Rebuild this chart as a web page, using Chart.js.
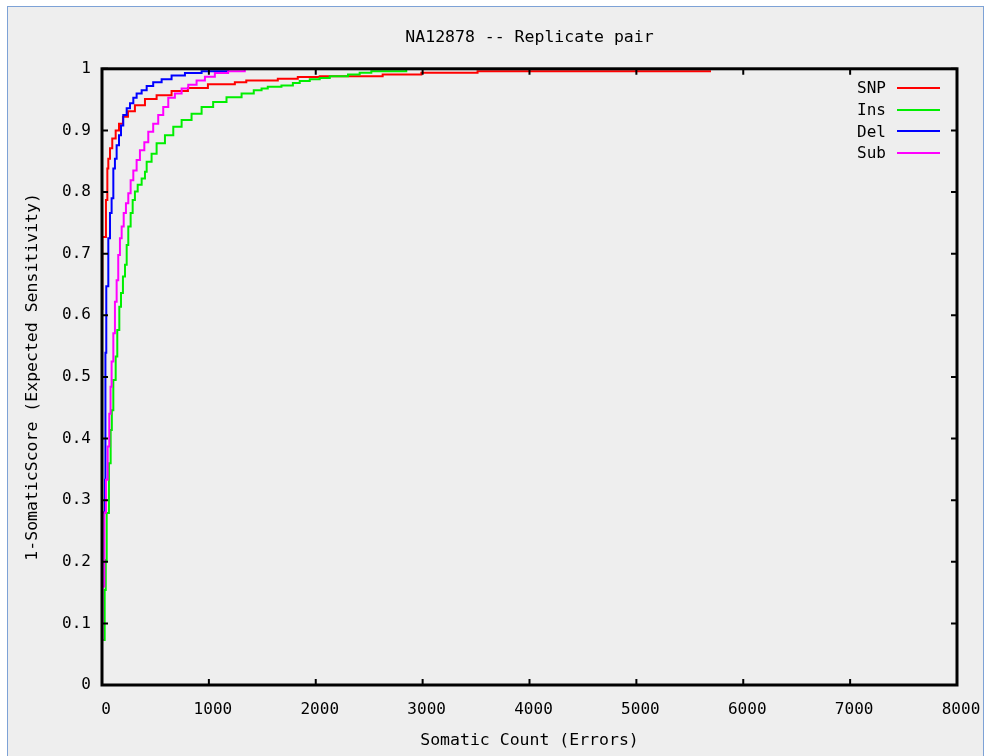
<!DOCTYPE html>
<html>
<head>
<meta charset="utf-8">
<script src="https://cdn.jsdelivr.net/npm/chart.js@4.4.1/dist/chart.umd.min.js"></script>
<style>
  html, body { margin: 0; padding: 0; background: #ffffff; }
  body { width: 985px; height: 756px; position: relative; overflow: hidden; font-family: "DejaVu Sans Mono", monospace; }
  #frame { position: absolute; left: 7px; top: 6px; width: 975px; height: 760px; border: 1.5px solid #7da2d6; background: #eeeeee; }
  #plot { position: absolute; left: 0; top: 0; }
  #legend { position: absolute; left: 800px; top: 77px; width: 145px; font-size: 16px; color: #000; }
  .row { height: 21.7px; display: flex; align-items: center; justify-content: flex-end; }
  .row span { margin-right: 11px; }
  .row i { display: inline-block; width: 43px; height: 2px; margin-right: 5px; }
</style>
</head>
<body>
<div id="frame"></div>
<canvas id="plot" width="985" height="756"></canvas>
<div id="legend"></div>
<script>
// Valores (degraus: em x sobe até y).
const seriesNames = ['SNP', 'Ins', 'Del', 'Sub'];
const seriesColors = ['#ff0000', '#00ee00', '#0000ff', '#ff00ff'];

const snpX = [0, 3, 37, 50, 59, 75, 96, 128, 159, 196, 243, 308, 402, 511, 651, 804, 991, 1243, 1350, 1645, 1832, 2037, 2626, 2988, 3514, 4822, 5698];
const snpY = [0.0, 0.61, 0.727, 0.787, 0.838, 0.854, 0.871, 0.887, 0.900, 0.911, 0.922, 0.931, 0.941, 0.951, 0.957, 0.964, 0.969, 0.975, 0.978, 0.981, 0.984, 0.9865, 0.988, 0.9908, 0.9935, 0.996, 0.996];

const insX = [0, 25, 35, 44, 65, 81, 92, 106, 128, 143, 162, 178, 196, 215, 231, 246, 268, 287, 308, 334, 371, 402, 418, 464, 511, 589, 667, 745, 838, 932, 1040, 1165, 1306, 1420, 1493, 1551, 1679, 1786, 1850, 1944, 2037, 2131, 2302, 2411, 2520, 2847, 2980];
const insY = [0.05, 0.073, 0.154, 0.203, 0.279, 0.36, 0.414, 0.446, 0.495, 0.533, 0.576, 0.614, 0.636, 0.663, 0.682, 0.714, 0.744, 0.766, 0.787, 0.801, 0.812, 0.822, 0.833, 0.849, 0.862, 0.879, 0.892, 0.906, 0.917, 0.927, 0.938, 0.946, 0.954, 0.960, 0.965, 0.968, 0.971, 0.973, 0.977, 0.980, 0.983, 0.985, 0.988, 0.9908, 0.9935, 0.996, 1.0];

const delX = [0, 3, 28, 32, 40, 59, 75, 90, 106, 121, 137, 159, 178, 199, 231, 262, 293, 324, 371, 418, 479, 558, 651, 776, 932, 1180, 1250, 1300];
const delY = [0.05, 0.16, 0.28, 0.333, 0.539, 0.647, 0.725, 0.766, 0.79, 0.838, 0.854, 0.876, 0.892, 0.908, 0.925, 0.936, 0.944, 0.953, 0.960, 0.965, 0.972, 0.978, 0.983, 0.989, 0.993, 0.996, 1.0, 1.0];

const subX = [0, 5, 22, 37, 53, 68, 80, 90, 106, 121, 137, 152, 168, 184, 203, 224, 246, 268, 293, 324, 355, 396, 433, 479, 526, 573, 620, 682, 745, 807, 885, 963, 1056, 1180, 1336, 1461];
const subY = [0.05, 0.073, 0.16, 0.28, 0.333, 0.387, 0.44, 0.484, 0.525, 0.571, 0.622, 0.657, 0.698, 0.725, 0.744, 0.766, 0.782, 0.798, 0.819, 0.835, 0.852, 0.868, 0.881, 0.898, 0.911, 0.925, 0.938, 0.953, 0.960, 0.968, 0.974, 0.981, 0.987, 0.993, 0.996, 1.0];

const xTickValues = [0, 1000, 2000, 3000, 4000, 5000, 6000, 7000, 8000];
const xTickLabels = ['0', '1000', '2000', '3000', '4000', '5000', '6000', '7000', '8000'];
const yTickValues = [0, 0.1, 0.2, 0.3, 0.4, 0.5, 0.6, 0.7, 0.8, 0.9, 1];
const yTickLabels = ['0', '0.1', '0.2', '0.3', '0.4', '0.5', '0.6', '0.7', '0.8', '0.9', '1'];

const FONT = '"DejaVu Sans Mono", monospace';

function toPoints(xs, ys) {
  return xs.map((x, i) => ({ x: x, y: ys[i] }));
}

const allX = [snpX, insX, delX, subX];
const allY = [snpY, insY, delY, subY];

const datasets = seriesNames.map((name, i) => ({
  label: name,
  data: toPoints(allX[i], allY[i]),
  borderColor: seriesColors[i],
  borderWidth: 2,
  pointRadius: 0,
  stepped: 'after',
  fill: false,
  order: seriesNames.length - i // Sub por cima, como no gnuplot
}));

// Moldura preta e marcas de escala para dentro (estilo gnuplot).
const gnuplotFrame = {
  id: 'gnuplotFrame',
  afterDatasetsDraw(chart) {
    const { ctx, chartArea: a, scales } = chart;
    ctx.save();
    ctx.strokeStyle = '#000';
    ctx.lineWidth = 2;
    scales.x.ticks.forEach(t => {
      const px = scales.x.getPixelForValue(t.value);
      ctx.beginPath();
      ctx.moveTo(px, a.bottom); ctx.lineTo(px, a.bottom - 6);
      ctx.moveTo(px, a.top); ctx.lineTo(px, a.top + 6);
      ctx.stroke();
    });
    scales.y.ticks.forEach(t => {
      const py = scales.y.getPixelForValue(t.value);
      ctx.beginPath();
      ctx.moveTo(a.left, py); ctx.lineTo(a.left + 6, py);
      ctx.moveTo(a.right, py); ctx.lineTo(a.right - 6, py);
      ctx.stroke();
    });
    ctx.lineWidth = 3;
    ctx.strokeRect(a.left, a.top, a.right - a.left, a.bottom - a.top);
    ctx.restore();
  }
};

const chart = new Chart(document.getElementById('plot').getContext('2d'), {
  type: 'line',
  data: { datasets },
  plugins: [gnuplotFrame],
  options: {
    responsive: false,
    animation: false,
    layout: { padding: { left: 0, right: 28, top: 0, bottom: 0 } },
    plugins: {
      legend: { display: false },
      tooltip: { enabled: false },
      title: {
        display: true,
        text: 'NA12878 -- Replicate pair',
        fullSize: false,
        color: '#000',
        font: { family: FONT, size: 16.5, weight: 'normal' },
        padding: { top: 28, bottom: 21 }
      }
    },
    scales: {
      x: {
        type: 'linear',
        min: 0, max: 8000,
        afterBuildTicks: s => { s.ticks = xTickValues.map(v => ({ value: v })); },
        afterFit: s => { s.height = 71; s.paddingLeft = 0; s.paddingRight = 0; },
        grid: { display: false, drawTicks: false },
        border: { display: false },
        ticks: {
          padding: 15,
          labelOffset: 4,
          color: '#000',
          font: { family: FONT, size: 16 },
          maxRotation: 0,
          callback: (v, i) => xTickLabels[i]
        },
        title: {
          display: true,
          text: 'Somatic Count (Errors)',
          color: '#000',
          font: { family: FONT, size: 16.5 },
          padding: { top: 0, bottom: 5 }
        }
      },
      y: {
        type: 'linear',
        min: 0, max: 1,
        afterBuildTicks: s => { s.ticks = yTickValues.map(v => ({ value: v })); },
        afterFit: s => { s.width = 102; s.paddingTop = 0; s.paddingBottom = 0; },
        grid: { display: false, drawTicks: false },
        border: { display: false },
        ticks: {
          padding: 11,
          color: '#000',
          font: { family: FONT, size: 16 },
          callback: (v, i) => yTickLabels[i]
        },
        title: {
          display: true,
          text: '1-SomaticScore (Expected Sensitivity)',
          color: '#000',
          font: { family: FONT, size: 16.5 },
          padding: { top: 23, bottom: 0 }
        }
      }
    }
  }
});

// Legenda à direita, no canto superior do gráfico.
const legend = document.getElementById('legend');
seriesNames.forEach((name, i) => {
  const row = document.createElement('div');
  row.className = 'row';
  const label = document.createElement('span');
  label.textContent = name;
  const line = document.createElement('i');
  line.style.background = seriesColors[i];
  row.appendChild(label);
  row.appendChild(line);
  legend.appendChild(row);
});
</script>
</body>
</html>
